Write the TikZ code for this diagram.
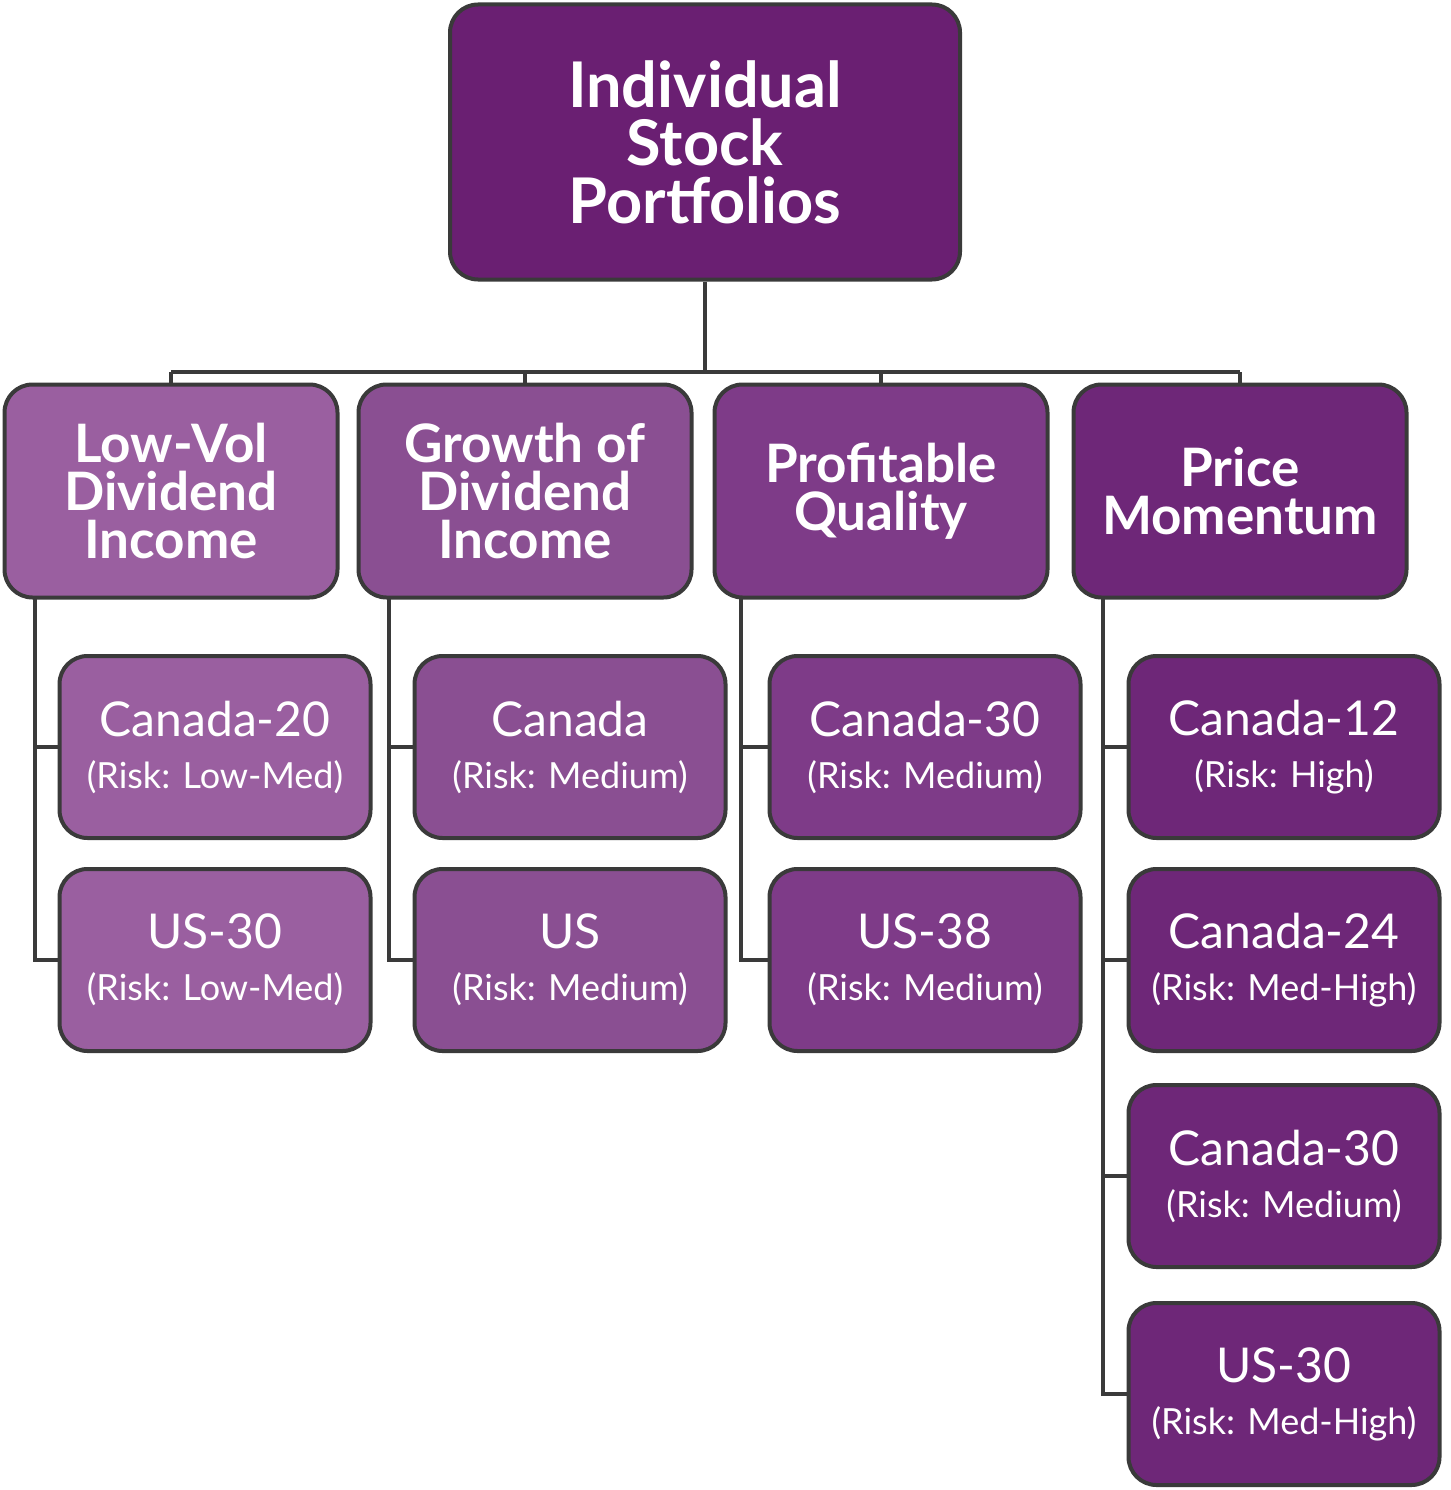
\documentclass[tikz,border=0pt]{standalone}
\usepackage{fontspec}
\setmainfont{Lato}
\usetikzlibrary{calc}
\definecolor{topc}{HTML}{6A1F72}
\definecolor{colA}{HTML}{9A5FA0}
\definecolor{colB}{HTML}{8A4F92}
\definecolor{colC}{HTML}{7E3B88}
\definecolor{colD}{HTML}{6E2778}
\definecolor{edge}{HTML}{3A3A3A}
\tikzset{
  box/.style={draw=edge, line width=4pt, rounded corners=28pt, text=white, align=center, inner sep=0pt},
  head/.style={box, minimum width=333pt, minimum height=213pt, font=\fontsize{53}{48}\selectfont\bfseries},
  leaf/.style={box, minimum width=311pt, minimum height=182pt, font=\fontsize{48}{52}\selectfont},
  link/.style={draw=edge, line width=4pt}
}
\newcommand{\leaftext}[2]{#1\\{\fontsize{36}{52}\selectfont (Risk: #2)}}
\begin{document}
\begin{tikzpicture}[x=1pt,y=-1pt]
  \useasboundingbox (0,0) rectangle (1450,1490);
  \node [box, fill=topc, minimum width=510pt, minimum height=275pt,
    font=\fontsize{63}{58}\selectfont\bfseries] (top) at (705,142) {Individual\\Stock\\Portfolios};

  \node [head, fill=colA] (lowvol) at (171,491) {Low-Vol\\Dividend\\Income};
  \node [head, fill=colB] (growth) at (525,491) {Growth of\\Dividend\\Income};
  \node [head, fill=colC] (quality) at (881,491) {Profitable\\Quality};
  \node [head, fill=colD] (momentum) at (1240,491) {Price\\Momentum};

  \node [leaf, fill=colA] (lv1) at (215,747) {\leaftext{Canada-20}{Low-Med}};
  \node [leaf, fill=colA] (lv2) at (215,960) {\leaftext{US-30}{Low-Med}};
  \node [leaf, fill=colB] (gr1) at (570,747) {\leaftext{Canada}{Medium}};
  \node [leaf, fill=colB] (gr2) at (570,960) {\leaftext{US}{Medium}};
  \node [leaf, fill=colC] (pq1) at (925,747) {\leaftext{Canada-30}{Medium}};
  \node [leaf, fill=colC] (pq2) at (925,960) {\leaftext{US-38}{Medium}};
  \node [leaf, fill=colD] (pm1) at (1284,747) {\leaftext{Canada-12}{High}};
  \node [leaf, fill=colD] (pm2) at (1284,960) {\leaftext{Canada-24}{Med-High}};
  \node [leaf, fill=colD] (pm3) at (1284,1176) {\leaftext{Canada-30}{Medium}};
  \node [leaf, fill=colD] (pm4) at (1284,1394) {\leaftext{US-30}{Med-High}};

  % trunk and bus
  \coordinate (bus) at (705,372);
  \draw [link] (top.south) -- (bus);
  \draw [link] (lowvol.north |- bus) -- (momentum.north |- bus);
  \foreach \h in {lowvol,growth,quality,momentum}
    \draw [link] (\h.north |- bus) -- (\h.north);

  % branches to the leaves
  \foreach \h/\x/\l in {lowvol/35/lv, growth/389/gr, quality/741/pq} {
    \draw [link] (\x,598) |- (\l2.west);
    \draw [link] (\x,747) -- (\l1.west);
  }
  \draw [link] (1103,598) |- (pm4.west);
  \foreach \l in {pm1,pm2,pm3}
    \draw [link] (1103,0 |- \l.west) -- (\l.west);
\end{tikzpicture}
\end{document}
